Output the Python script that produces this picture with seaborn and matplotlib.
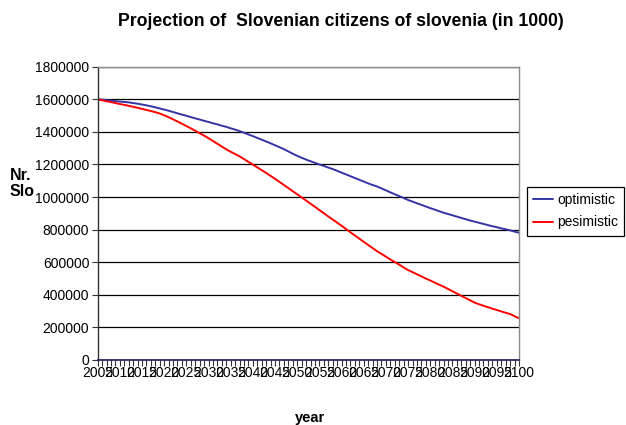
import numpy as np
import pandas as pd
import matplotlib
matplotlib.use("Agg")
import matplotlib.pyplot as plt
from matplotlib.ticker import MultipleLocator, FuncFormatter
import seaborn as sns

years = list(range(2005, 2101))

optimistic = [
    1600000, 1598000, 1595000, 1592000, 1589000, 1586000, 1584000, 1581000, 1577000, 1573000,
    1568000, 1563000, 1557000, 1551000, 1544000, 1537000, 1530000, 1522000, 1514000, 1506000,
    1499000, 1491000, 1483000, 1476000, 1468000, 1461000, 1453000, 1446000, 1438000, 1431000,
    1422000, 1414000, 1405000, 1395000, 1384000, 1374000, 1363000, 1352000, 1341000, 1330000,
    1318000, 1306000, 1294000, 1280000, 1266000, 1253000, 1241000, 1230000, 1220000, 1210000,
    1200000, 1191000, 1181000, 1172000, 1161000, 1150000, 1139000, 1128000, 1117000, 1106000,
    1095000, 1084000, 1074000, 1065000, 1053000, 1041000, 1029000, 1017000, 1006000, 994000,
    982000, 972000, 962000, 952000, 942000, 932000, 923000, 913000, 904000, 896000,
    888000, 880000, 872000, 864000, 856000, 849000, 842000, 835000, 828000, 821000,
    815000, 808000, 802000, 796000, 788000, 781000,
]

pesimistic = [
    1600000, 1594000, 1588000, 1583000, 1577000, 1571000, 1566000, 1560000, 1554000, 1548000,
    1541000, 1535000, 1528000, 1521000, 1513000, 1502000, 1490000, 1477000, 1464000, 1450000,
    1436000, 1422000, 1407000, 1392000, 1377000, 1361000, 1344000, 1327000, 1310000, 1293000,
    1278000, 1264000, 1250000, 1233000, 1216000, 1199000, 1182000, 1165000, 1148000, 1130000,
    1112000, 1093000, 1074000, 1055000, 1036000, 1017000, 998000, 979000, 959000, 940000,
    920000, 901000, 881000, 862000, 843000, 824000, 804000, 784000, 764000, 745000,
    725000, 706000, 687000, 668000, 651000, 634000, 617000, 601000, 585000, 568000,
    552000, 539000, 526000, 513000, 500000, 488000, 475000, 462000, 450000, 436000,
    422000, 408000, 394000, 380000, 366000, 352000, 342000, 333000, 324000, 315000,
    307000, 298000, 290000, 282000, 269000, 256000,
]

y_ticks = list(range(0, 1800001, 200000))
x_label_years = list(range(2005, 2101, 5))

df = pd.DataFrame({
    "year": years * 2,
    "value": optimistic + pesimistic,
    "scenario": ["optimistic"] * len(years) + ["pesimistic"] * len(years),
})

sns.set_style("white")
plt.rcParams["font.family"] = ["Liberation Sans", "DejaVu Sans"]
plt.rcParams["text.color"] = "black"
plt.rcParams["xtick.color"] = "black"
plt.rcParams["ytick.color"] = "black"

BLUE = "#3434a4"
RED = "#ff0000"

fig = plt.figure(figsize=(6.26, 4.25), dpi=100)
ax = fig.add_axes([0.156, 0.153, 0.673, 0.690])

sns.lineplot(data=df, x="year", y="value", hue="scenario",
             palette={"optimistic": BLUE, "pesimistic": RED},
             linewidth=1.4, ax=ax, legend=False)

ax.set_xlim(2005, 2100)
ax.set_ylim(0, 1800000)
ax.set_yticks(y_ticks)
ax.yaxis.set_major_formatter(FuncFormatter(lambda v, p: f"{int(v)}"))
ax.set_xticks(x_label_years)
ax.set_xticklabels([str(y) for y in x_label_years])
ax.xaxis.set_minor_locator(MultipleLocator(1))

ax.grid(axis="y", color="black", linewidth=0.9)
ax.set_axisbelow(True)
ax.tick_params(axis="both", which="both", direction="out", length=4, width=0.8,
               color="#333333", labelsize=10, pad=2, bottom=True, left=True,
               labelcolor="black")
ax.tick_params(axis="x", which="major", pad=0.5, labelsize=10)

for side in ["top", "right"]:
    ax.spines[side].set_color("#8c8c8c")
    ax.spines[side].set_linewidth(1.0)
ax.spines["left"].set_color("#333333")
ax.spines["bottom"].set_color("#1c1c50")
ax.spines["left"].set_linewidth(1.0)
ax.spines["bottom"].set_linewidth(1.2)

ax.set_xlabel("")
ax.set_ylabel("")
fig.text(0.545, 0.949, "Projection of  Slovenian citizens of slovenia (in 1000)",
         ha="center", va="center", fontsize=12.7, fontweight="bold", color="black")
fig.text(0.496, 0.017, "year", ha="center", va="center", fontsize=10.5,
         fontweight="bold", color="black")
fig.text(0.015, 0.568, "Nr.\nSlo", ha="left", va="center", fontsize=11.5,
         fontweight="bold", linespacing=1.05, color="black")

handles = [plt.Line2D([], [], color=BLUE, linewidth=1.4),
           plt.Line2D([], [], color=RED, linewidth=1.4)]
leg = fig.legend(handles, ["optimistic", "pesimistic"], loc="center left",
                 bbox_to_anchor=(0.842, 0.503), fontsize=10, frameon=True,
                 fancybox=False, framealpha=1, edgecolor="black",
                 handlelength=1.4, handletextpad=0.3, borderpad=0.45,
                 labelspacing=0.6, borderaxespad=0)
leg.get_frame().set_linewidth(0.9)

fig.savefig("out.png", dpi=100)
